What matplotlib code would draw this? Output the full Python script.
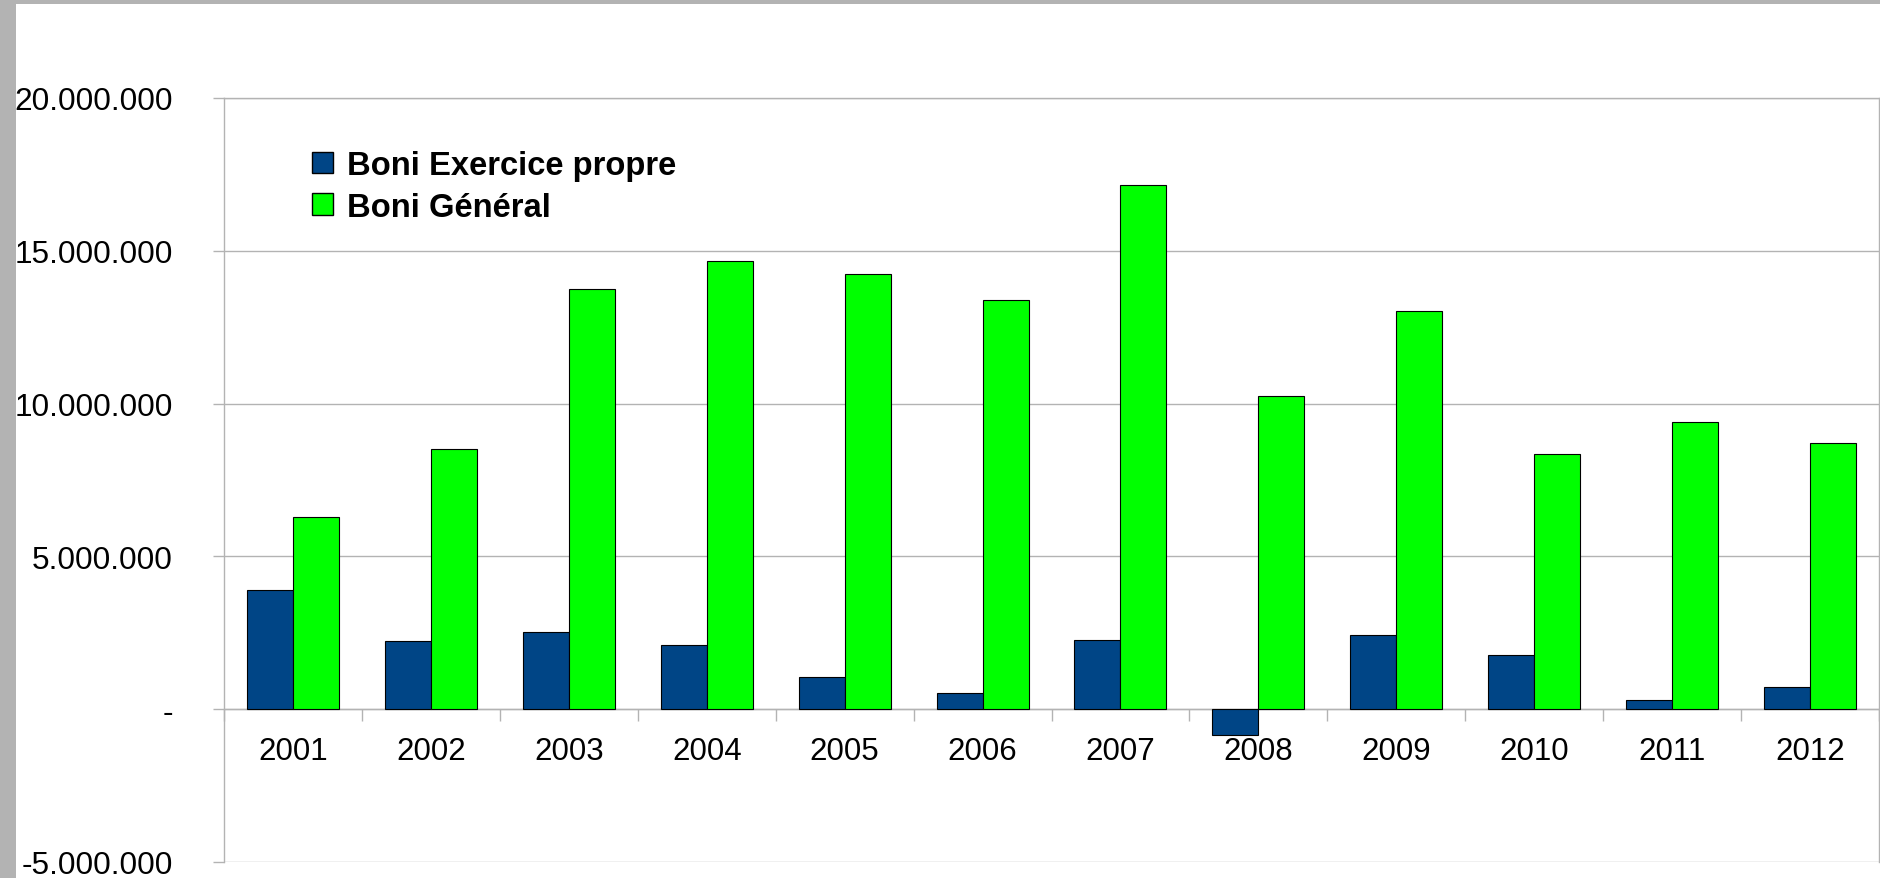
import matplotlib
matplotlib.use("Agg")
import matplotlib.pyplot as plt
import numpy as np
from matplotlib.patches import Rectangle
from matplotlib.ticker import FuncFormatter

years = ["2001", "2002", "2003", "2004", "2005", "2006",
         "2007", "2008", "2009", "2010", "2011", "2012"]
boni_exercice = [3.89e6, 2.22e6, 2.52e6, 2.09e6, 1.06e6, 0.54e6,
                 2.26e6, -0.85e6, 2.42e6, 1.77e6, 0.29e6, 0.72e6]
boni_general = [6.29e6, 8.53e6, 13.74e6, 14.66e6, 14.25e6, 13.38e6,
                17.15e6, 10.26e6, 13.02e6, 8.36e6, 9.41e6, 8.72e6]
series_labels = ["Boni Exercice propre", "Boni Général"]
yticks = [-5e6, 0, 5e6, 10e6, 15e6, 20e6]

BLUE = "#004586"
GREEN = "#00ff00"
GRID = "#b3b3b3"
DPI = 100
W, H = 1880, 879

plt.rcParams["font.family"] = ["Liberation Sans", "DejaVu Sans"]


def px(v):
    return v * 72.0 / DPI


def fmt_thousands(v, _pos):
    if abs(v) < 1:
        return "-"
    return f"{v:,.0f}".replace(",", ".")


fig = plt.figure(figsize=(W / DPI, H / DPI), dpi=DPI)
fig.patch.set_facecolor("white")

# grey window border (top and left)
fig.patches.append(Rectangle((0, 1 - 5 / H), 1, 5 / H, transform=fig.transFigure,
                             facecolor="#b3b3b3", edgecolor="none", zorder=0))
fig.patches.append(Rectangle((0, 0), 16 / W, 1, transform=fig.transFigure,
                             facecolor="#b3b3b3", edgecolor="none", zorder=0))

left, right, top, bottom = 224, 1879, 99, 863
ax = fig.add_axes([left / W, 1 - bottom / H, (right - left) / W, (bottom - top) / H])

x = np.arange(len(years))
w = 1 / 3
ax.bar(x - w / 2, boni_exercice, width=w, color=BLUE, edgecolor="black",
       linewidth=0.8, label=series_labels[0], zorder=3)
ax.bar(x + w / 2, boni_general, width=w, color=GREEN, edgecolor="black",
       linewidth=0.8, label=series_labels[1], zorder=3)

ax.set_xlim(-0.5, len(years) - 0.5)
ax.set_ylim(-5e6, 20e6)
ax.set_yticks(yticks)
ax.yaxis.set_major_formatter(FuncFormatter(fmt_thousands))
ax.grid(axis="y", color=GRID, linewidth=1.0, zorder=0)

for s in ax.spines.values():
    s.set_color(GRID)
    s.set_linewidth(1.0)
ax.spines["bottom"].set_position(("data", 0))
ax.spines["bottom"].set_zorder(2)

ax.set_xticks(x)
ax.set_xticklabels(years)
ax.set_xticks(np.arange(len(years) + 1) - 0.5, minor=True)
ax.tick_params(axis="x", which="major", length=0, pad=px(27), labelsize=22.5)
ax.tick_params(axis="x", which="minor", length=px(12), width=1.0, color=GRID,
               direction="out")
ax.tick_params(axis="y", length=px(11), width=1.0, color=GRID, direction="out",
               pad=px(40), labelsize=22.8)

leg = ax.legend(loc="upper left", bbox_to_anchor=(312 / W, 1 - 151 / H),
                bbox_transform=fig.transFigure, frameon=False, borderpad=0,
                borderaxespad=0, handlelength=0.64, handleheight=0.64,
                handletextpad=0.42, labelspacing=0.33,
                prop={"weight": "bold", "size": 23.6})
for h in leg.legend_handles:
    h.set_edgecolor("black")
    h.set_linewidth(1.0)

fig.savefig("out.png", dpi=DPI)
